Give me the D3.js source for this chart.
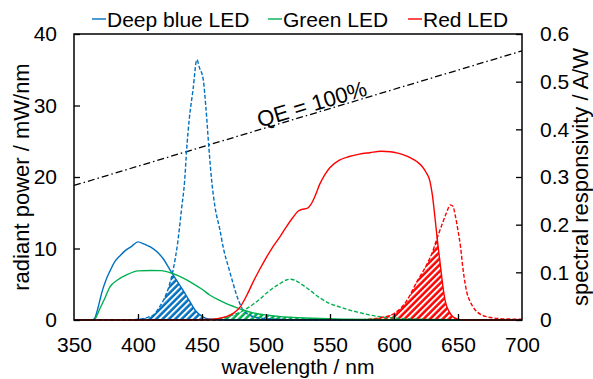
<!DOCTYPE html>
<html>
<head>
<meta charset="utf-8">
<script src="https://cdn.jsdelivr.net/npm/d3@7"></script>
<style>
  html, body { margin: 0; padding: 0; background: #fff; }
  svg { display: block; font-family: "Liberation Sans", Arial, sans-serif; }
</style>
</head>
<body>
<svg id="chart" width="593" height="379"></svg>
<script>
// axis ticks
var xTicks = [350, 400, 450, 500, 550, 600, 650, 700];
var yLeftTicks = [0, 10, 20, 30, 40];
var yRightTicks = [0, 0.1, 0.2, 0.3, 0.4, 0.5, 0.6];

// legend
var ledNames = ["Deep blue LED", "Green LED", "Red LED"];
var ledColors = ["#0070C0", "#00B050", "#FF0000"];

// spectral responsivity (solid, right axis, A/W)
var blueRespWl = [350, 364, 366, 368, 370, 372, 375, 378, 382, 386, 390, 395, 400, 405, 410, 415, 420, 425, 430, 435, 440, 445, 450, 455, 460, 470, 700];
var blueResp = [0, 0, 0.003, 0.018, 0.039, 0.06, 0.084, 0.102, 0.123, 0.135, 0.1455, 0.1545, 0.164, 0.159, 0.153, 0.1425, 0.1275, 0.105, 0.084, 0.063, 0.041, 0.0195, 0.0075, 0.002, 0.001, 0, 0];

var greenRespWl = [350, 365, 367, 370, 374, 378, 384, 391, 400, 410, 418, 427, 435, 443, 450, 456, 463, 469, 475, 482, 490, 500, 510, 521, 530, 542, 560, 600, 650, 700];
var greenResp = [0, 0, 0.0045, 0.0225, 0.045, 0.069, 0.084, 0.0945, 0.103, 0.104, 0.1035, 0.0975, 0.0885, 0.0765, 0.0645, 0.0525, 0.042, 0.0345, 0.028, 0.021, 0.015, 0.0105, 0.0075, 0.0055, 0.0042, 0.003, 0.0018, 0.0008, 0.0003, 0];

var redRespWl = [350, 440, 455, 462, 469, 475, 480, 485, 490, 495, 500, 505, 511, 516, 521, 525, 528, 532, 535, 538, 542, 546, 550, 557, 565, 573, 581, 590, 597, 603, 608, 613, 618, 622, 625, 628, 630, 632, 634, 636, 638, 640, 643, 646, 650, 655, 700];
var redResp = [0, 0, 0.001, 0.003, 0.007, 0.015, 0.028, 0.052, 0.08, 0.106, 0.13, 0.152, 0.175, 0.196, 0.215, 0.228, 0.232, 0.234, 0.242, 0.258, 0.285, 0.305, 0.32, 0.335, 0.343, 0.348, 0.351, 0.354, 0.353, 0.35, 0.346, 0.34, 0.332, 0.322, 0.31, 0.292, 0.262, 0.215, 0.165, 0.12, 0.075, 0.04, 0.018, 0.007, 0.002, 0, 0];

// radiant power (dashed, left axis, mW/nm)
var bluePowWl = [350, 395, 400, 404, 408, 412, 416, 420, 424, 428, 431, 434, 436.5, 438, 440, 443, 446, 448, 451, 453, 455.5, 457.5, 460, 464, 467, 470.5, 474, 477, 480, 482, 486, 490, 500, 520, 550, 700];
var bluePow = [0, 0, 0.1, 0.2, 0.4, 0.7, 1.6, 2.8, 4.6, 7.5, 10.8, 15.5, 19.6, 23.8, 28, 32.2, 36.4, 35.3, 33.6, 29.8, 23.8, 19.6, 16, 12.6, 9.8, 7.5, 5.3, 3.5, 2.1, 1.4, 0.8, 0.46, 0.2, 0.05, 0, 0];

var greenPowWl = [350, 445, 455, 462, 468, 474, 480, 485, 490, 495, 500, 505, 511, 516, 519, 522, 527, 534, 542, 550, 558, 566, 574, 581, 589, 600, 620, 650, 700];
var greenPow = [0, 0, 0.05, 0.15, 0.35, 0.7, 1.1, 1.6, 2.2, 2.9, 3.7, 4.4, 5.1, 5.6, 5.7, 5.6, 5.1, 4.2, 3.1, 2.3, 1.8, 1.35, 1.0, 0.7, 0.46, 0.28, 0.12, 0.05, 0.02];

var redPowWl = [350, 570, 580, 590, 600, 605, 610, 614, 618, 622, 626, 630, 634, 638, 641, 644, 646, 648, 650, 652, 654, 657, 660, 663, 667, 672, 678, 683, 690, 700];
var redPow = [0, 0, 0.1, 0.35, 0.9, 1.6, 2.7, 4.0, 5.4, 6.6, 7.9, 9.5, 11.6, 13.6, 15.0, 16.1, 15.9, 14.5, 12.5, 10.2, 7.0, 3.8, 2.4, 1.5, 0.85, 0.47, 0.28, 0.19, 0.13, 0.1];

// QE = 100% line end points (A/W)
var qeWl = [350, 700];
var qeResp = [0.2823, 0.5646];

var margin = {top: 34, right: 71, bottom: 59, left: 74};
var svg = d3.select("#chart");
var width = 593 - margin.left - margin.right;
var height = 379 - margin.top - margin.bottom;

var x = d3.scaleLinear().domain([350, 700]).range([0, width]);
var yL = d3.scaleLinear().domain([0, 40]).range([height, 0]);
var yR = d3.scaleLinear().domain([0, 0.6]).range([height, 0]);

var defs = svg.append("defs");
ledColors.forEach(function(c, i) {
  var p = defs.append("pattern")
    .attr("id", "hatch" + i)
    .attr("patternUnits", "userSpaceOnUse")
    .attr("width", 4.5).attr("height", 4.5)
    .attr("patternTransform", "rotate(-45)");
  p.append("rect").attr("width", 4.5).attr("height", 4.5).attr("fill", c);
  p.append("rect").attr("y", 0).attr("width", 4.5).attr("height", 2).attr("fill", "#fff");
});

var g = svg.append("g").attr("transform", "translate(" + margin.left + "," + margin.top + ")");

function zipped(wl, v) { return wl.map(function(w, i) { return [w, v[i]]; }); }

var resp = [zipped(blueRespWl, blueResp), zipped(greenRespWl, greenResp), zipped(redRespWl, redResp)];
var pow = [zipped(bluePowWl, bluePow), zipped(greenPowWl, greenPow), zipped(redPowWl, redPow)];

var curve = d3.curveMonotoneX;
var lineR = d3.line().x(function(d) { return x(d[0]); }).y(function(d) { return yR(d[1]); }).curve(curve);
var lineL = d3.line().x(function(d) { return x(d[0]); }).y(function(d) { return yL(d[1]); }).curve(curve);
var areaR = d3.area().x(function(d) { return x(d[0]); }).y0(height).y1(function(d) { return yR(d[1]); }).curve(curve);
var areaL = d3.area().x(function(d) { return x(d[0]); }).y0(height).y1(function(d) { return yL(d[1]); }).curve(curve);

// overlap hatching: area under dashed clipped by area under solid
resp.forEach(function(r, i) {
  defs.append("clipPath").attr("id", "clipR" + i)
    .append("path").attr("d", areaR(r));
  g.append("path")
    .attr("d", areaL(pow[i]))
    .attr("fill", "url(#hatch" + i + ")")
    .attr("clip-path", "url(#clipR" + i + ")");
});

// QE line
g.append("path")
  .attr("d", d3.line().x(function(d) { return x(d[0]); }).y(function(d) { return yR(d[1]); })(zipped(qeWl, qeResp)))
  .attr("fill", "none").attr("stroke", "#000").attr("stroke-width", 1.3)
  .attr("stroke-dasharray", "7,3,1.5,3");

var ang = Math.atan2(yR(qeResp[1]) - yR(qeResp[0]), x(qeWl[1]) - x(qeWl[0])) * 180 / Math.PI;
var qx = x(537.5), qy = yR(qeResp[0] + (qeResp[1] - qeResp[0]) * (537.5 - 350) / 350) - 2;
g.append("text")
  .attr("transform", "translate(" + qx + "," + qy + ") rotate(" + ang + ")")
  .attr("text-anchor", "middle")
  .attr("font-size", 22)
  .text("QE = 100%");

// dashed radiant power curves
pow.forEach(function(p, i) {
  g.append("path").attr("d", lineL(p))
    .attr("fill", "none").attr("stroke", ledColors[i]).attr("stroke-width", 1.4)
    .attr("stroke-dasharray", "4,2");
});

// solid responsivity curves
resp.forEach(function(r, i) {
  g.append("path").attr("d", lineR(r))
    .attr("fill", "none").attr("stroke", ledColors[i]).attr("stroke-width", 1.4);
});

// frame
g.append("rect").attr("width", width).attr("height", height)
  .attr("fill", "none").attr("stroke", "#000").attr("stroke-width", 1.5);

// axes
var xAxis = g.append("g").attr("transform", "translate(0," + height + ")")
  .call(d3.axisBottom(x).tickValues(xTicks).tickSizeInner(-6).tickSizeOuter(0).tickPadding(17));
var yAxisL = g.append("g")
  .call(d3.axisLeft(yL).tickValues(yLeftTicks).tickSizeInner(-6).tickSizeOuter(0).tickPadding(17));
var yAxisR = g.append("g").attr("transform", "translate(" + width + ",0)")
  .call(d3.axisRight(yR).tickValues(yRightTicks).tickFormat(d3.format("~g")).tickSizeInner(-6).tickSizeOuter(0).tickPadding(18));

[xAxis, yAxisL, yAxisR].forEach(function(a) {
  a.select(".domain").remove();
  a.selectAll(".tick line").attr("stroke", "#000").attr("stroke-width", 1.3);
  a.selectAll(".tick text").attr("font-size", 21).attr("font-family", "Liberation Sans, Arial, sans-serif").attr("fill", "#000");
});
xAxis.selectAll(".tick").filter(function(d) { return d === 350 || d === 700; }).select("line").remove();

// axis titles
g.append("text").attr("x", width / 2).attr("y", height + 54)
  .attr("text-anchor", "middle").attr("font-size", 21).text("wavelength / nm");
g.append("text").attr("transform", "translate(" + (29 - margin.left) + "," + (height / 2) + ") rotate(-90)")
  .attr("text-anchor", "middle").attr("font-size", 22).text("radiant power / mW/nm");
g.append("text").attr("transform", "translate(" + (588 - margin.left) + "," + (height / 2) + ") rotate(-90)")
  .attr("text-anchor", "middle").attr("font-size", 22).text("spectral responsivity / A/W");

// legend
var legX = [92, 268, 408];
var leg = svg.append("g");
ledNames.forEach(function(n, i) {
  leg.append("line").attr("x1", legX[i]).attr("x2", legX[i] + 14)
    .attr("y1", 19).attr("y2", 19).attr("stroke", ledColors[i]).attr("stroke-width", 1.4);
  leg.append("text").attr("x", legX[i] + 15).attr("y", 27)
    .attr("font-size", 21).text(n);
});
</script>
</body>
</html>
